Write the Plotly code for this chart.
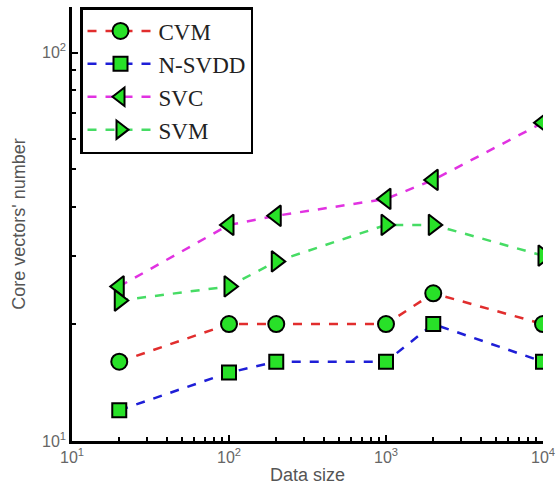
import plotly.graph_objects as go
import numpy as np

data_size = [20, 100, 200, 1000, 2000, 10000]
cvm = [16, 20, 20, 20, 24, 20]
nsvdd = [12, 15, 16, 16, 20, 16]
svc = [25, 36, 38, 42, 47, 66]
svm = [23, 25, 29, 36, 36, 30]

series = [
    ("CVM", cvm, "rgb(225,45,45)", "circle"),
    ("N-SVDD", nsvdd, "rgb(30,30,215)", "square"),
    ("SVC", svc, "rgb(225,50,225)", "triangle-left"),
    ("SVM", svm, "rgb(70,220,100)", "triangle-right"),
]

fig = go.Figure()
for name, vals, col, sym in series:
    fig.add_trace(go.Scatter(
        x=data_size, y=vals, name=name, mode="lines+markers",
        line=dict(color=col, width=2.5, dash="dash"),
        marker=dict(symbol=sym, size=16 if sym == "circle" else (14 if sym == "square" else 18),
                    color="rgb(40,225,40)", line=dict(color="black", width=2)),
    ))

x_major = [10, 100, 1000, 10000]
x_labels = ["10<sup>1</sup>", "10<sup>2</sup>", "10<sup>3</sup>", "10<sup>4</sup>"]
y_major = [10, 100]
y_labels = ["10<sup>1</sup>", "10<sup>2</sup>"]

x_minor = [m * 10 ** k for k in range(1, 4) for m in range(2, 10)]
y_minor = [m * 10 ** k for k in range(1, 3) for m in range(2, 10)]

tickfont = dict(family="Liberation Sans, Arial", size=16, color="#666")
titlefont = dict(family="Liberation Sans, Arial", size=18, color="#555")

fig.update_xaxes(
    type="log", range=[1, 4], tickmode="array", tickvals=x_major, ticktext=x_labels,
    showline=True, linecolor="black", linewidth=2.5, mirror=False, automargin=False,
    ticks="inside", ticklen=6, tickwidth=2, tickcolor="black",
    minor=dict(tickmode="array", tickvals=x_minor, ticks="inside", ticklen=4, tickwidth=1.5, tickcolor="black"),
    showgrid=False, zeroline=False, tickfont=tickfont,
    title=dict(text="Data size", font=titlefont, standoff=4),
)
fig.update_yaxes(
    type="log", range=[1, np.log10(131)], tickmode="array", tickvals=y_major, ticktext=y_labels,
    showline=True, linecolor="black", linewidth=2.5, mirror=False, automargin=False,
    ticks="inside", ticklen=6, tickwidth=2, tickcolor="black",
    minor=dict(tickmode="array", tickvals=y_minor, ticks="inside", ticklen=4, tickwidth=1.5, tickcolor="black"),
    showgrid=False, zeroline=False, tickfont=tickfont,
    title=dict(text="Core vectors' number", font=titlefont, standoff=12),
)

fig.update_layout(
    width=557, height=504,
    margin=dict(l=72, r=14, t=7, b=63),
    plot_bgcolor="white", paper_bgcolor="white",
    legend=dict(
        x=0.017, y=1.0, xanchor="left", yanchor="top",
        bordercolor="black", borderwidth=2.5, bgcolor="white",
        font=dict(family="Liberation Serif, Times New Roman", size=23, color="#222"),
        tracegroupgap=0, itemwidth=66,
    ),
)

# remove the default page margin so the 557x504 figure fills the window exactly
fig.write_html(
    "out.html",
    config={"displayModeBar": False},
    post_script="document.body.style.margin='0';document.body.style.overflow='hidden';",
)
